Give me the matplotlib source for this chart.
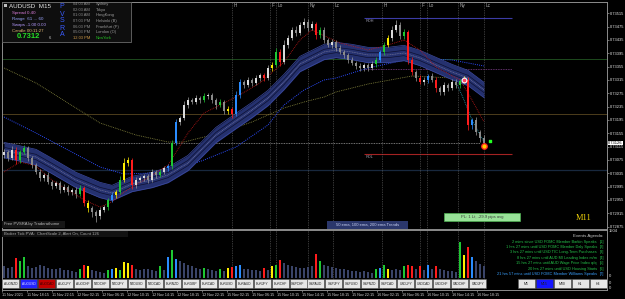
import numpy as np
import matplotlib.pyplot as plt
from matplotlib.patches import Rectangle

plt.rcParams['font.family'] = ['Liberation Sans', 'DejaVu Sans']

# AUDUSD M15 candles, prices in points (1 point = 0.00001)
first_open = 73090
closes = [73099, 73081, 73105, 73075, 73099, 73111, 73081, 73060, 73039, 73021,
          73030, 73009, 72997, 73006, 72985, 72994, 72979, 72985, 72973, 72991,
          72946, 72931, 72919, 72907, 72925, 72934, 72955, 72970, 72979, 73015,
          73066, 73075, 73000, 73015, 73021, 73027, 73015, 73039, 73030, 73039,
          73051, 73057, 73126, 73189, 73201, 73240, 73255, 73249, 73261, 73255,
          73267, 73270, 73255, 73240, 73250, 73222, 73228, 73213, 73270, 73309,
          73300, 73315, 73306, 73321, 73330, 73321, 73351, 73360, 73399, 73369,
          73420, 73441, 73465, 73456, 73480, 73489, 73471, 73483, 73450, 73465,
          73435, 73420, 73429, 73411, 73399, 73390, 73375, 73366, 73357, 73351,
          73360, 73351, 73363, 73375, 73399, 73420, 73441, 73465, 73480, 73447,
          73459, 73375, 73339, 73321, 73309, 73315, 73327, 73315, 73291, 73279,
          73300, 73291, 73309, 73300, 73312, 73315, 73180, 73195, 73159, 73141,
          73126]
upper_wick = [9, 6, 12, 8, 6, 9, 5, 7, 6, 9,
              6, 8, 5, 7, 6, 9, 5, 6, 8, 10,
              6, 9, 5, 6, 8, 6, 7, 9, 6, 12,
              15, 9, 6, 8, 6, 7, 5, 9, 6, 8,
              6, 7, 9, 8, 6, 12, 9, 6, 8, 6,
              9, 6, 7, 5, 8, 6, 9, 7, 12, 9,
              6, 8, 6, 9, 7, 6, 8, 9, 12, 9,
              15, 9, 8, 12, 9, 12, 8, 9, 6, 9,
              8, 6, 9, 6, 8, 7, 6, 9, 6, 8,
              6, 7, 9, 8, 6, 9, 8, 12, 15, 9,
              8, 6, 9, 6, 8, 9, 6, 8, 9, 6,
              8, 6, 9, 8, 6, 12, 9, 6, 8, 6,
              9]
lower_wick = [8, 10, 6, 12, 9, 6, 8, 9, 7, 10,
              8, 6, 9, 7, 10, 6, 8, 9, 12, 6,
              9, 12, 15, 18, 8, 6, 9, 6, 8, 6,
              6, 9, 12, 8, 6, 9, 8, 6, 9, 7,
              6, 8, 9, 6, 8, 6, 9, 7, 6, 8,
              6, 9, 8, 12, 6, 9, 8, 12, 6, 8,
              9, 6, 8, 6, 9, 8, 6, 9, 6, 12,
              6, 8, 6, 9, 6, 8, 9, 6, 12, 8,
              9, 6, 8, 9, 6, 8, 9, 6, 8, 9,
              8, 9, 6, 8, 6, 8, 6, 9, 6, 9,
              8, 12, 9, 8, 6, 9, 8, 6, 12, 9,
              8, 9, 6, 8, 9, 6, 15, 12, 9, 12,
              6]
# PVSRA candle class: n normal, g/r climax, b/y rising volume
kinds = ("nnnrggnnnn" "nnnnnnnnng" "rynnnngbyg" "yyrnnnnnng" "nbgbnnnnnn"
         "gnnngnyrbb" "nnnnnrnygr" "nnnnnnnnrg" "nnnnnnnnnn" "nnngbgynnn"
         "grrnrnbnrn" "nnnngyrbnn" "n")
volumes = [380, 340, 360, 660, 540, 690, 400, 330, 360, 420,
           380, 340, 300, 280, 320, 270, 250, 230, 200, 280,
           420, 400, 260, 220, 200, 160, 260, 300, 330, 260,
           520, 480, 420, 300, 260, 280, 300, 260, 240, 380,
           260, 690, 900, 620, 540, 480, 420, 380, 340, 300,
           330, 280, 260, 220, 280, 240, 330, 360, 380, 420,
           300, 280, 260, 250, 240, 330, 260, 380, 420, 580,
           480, 420, 380, 360, 340, 330, 360, 400, 800, 560,
           420, 380, 360, 330, 300, 280, 260, 240, 220, 200,
           220, 200, 180, 300, 320, 420, 300, 260, 280, 260,
           380, 430, 380, 300, 400, 260, 420, 300, 400, 300,
           260, 240, 220, 200, 1180, 750, 1000, 680, 560, 460,
           380]

# moving averages (bar index, points)
band_bars = [0, 8, 12, 18, 24, 27, 32, 37, 41, 46, 50, 53, 58, 62, 66, 70, 74, 80,
             83, 87, 91, 96, 100, 104, 108, 112, 116, 120]
band_mid = [73105, 73084, 73057, 73015, 72985, 72976, 73003, 73015, 73030, 73066,
            73114, 73150, 73192, 73225, 73261, 73309, 73363, 73399, 73405, 73399,
            73390, 73390, 73396, 73381, 73360, 73339, 73321, 73285]
ema100_bars = [0, 8, 16, 24, 30, 37, 45, 50, 58, 66, 70, 75, 80, 83, 91, 98, 102, 112, 120]
ema100 = [73204, 73156, 73105, 73054, 73033, 73036, 73054, 73075, 73114, 73180,
          73240, 73285, 73315, 73321, 73351, 73369, 73381, 73375, 73357]
ema200_bars = [0, 8, 16, 24, 33, 41, 45, 54, 62, 70, 75, 80, 83, 91, 102, 112, 120]
ema200 = [73351, 73306, 73246, 73186, 73150, 73129, 73129, 73156, 73189, 73231,
          73249, 73264, 73279, 73303, 73327, 73321, 73300]
fast_bars = [0, 4, 8, 12, 20, 24, 27, 30, 35, 41, 46, 50, 58, 64, 70, 74, 77, 84,
             91, 96, 100, 104, 108, 114, 117, 120]
fast_ema = [73039, 73069, 73057, 73015, 72955, 72934, 72949, 72979, 73015, 73060,
            73156, 73216, 73264, 73306, 73369, 73435, 73465, 73426, 73405, 73420,
            73435, 73405, 73354, 73315, 73255, 73189]
teal_bars = [113, 115, 117, 120]
teal_ema = [73309, 73255, 73195, 73129]

# horizontal levels (points)
green_level = 73378
olive_level = 73213
navy_level = 73045
purple_level = 73348
rdh_level = 73501
rdl_level = 73093
rd_start, rd_end = 90, 127

session_bars = [57, 66.5, 68, 76, 82.25, 94.5, 104, 105.75, 113.5, 120]
session_labels = ['H', 'F', 'Lo', 'Ny', 'Lc', 'H', 'F', 'Lo', 'Ny', 'Lc']

price_ticks = [0.73515, 0.73475, 0.73435, 0.73395, 0.73355, 0.73315, 0.73275, 0.73235,
               0.73195, 0.73155, 0.73115, 0.73075, 0.73035, 0.72995, 0.72955, 0.72915,
               0.72875]
time_labels = ['11 Nov 2021', '11 Nov 18:15', '11 Nov 22:15', '12 Nov 02:15', '12 Nov 06:15',
               '12 Nov 10:15', '12 Nov 14:15', '12 Nov 18:15', '12 Nov 22:15', '15 Nov 02:15',
               '15 Nov 06:15', '15 Nov 10:15', '15 Nov 14:15', '15 Nov 18:15', '15 Nov 22:15',
               '16 Nov 02:15', '16 Nov 06:15', '16 Nov 10:15', '16 Nov 14:15', '16 Nov 18:15']

symbols = ['AUDNZD', 'AUDUSD', 'AUDCAD', 'AUDJPY', 'AUDCHF', 'NZDCHF', 'NZDJPY', 'NZDUSD',
           'NZDCAD', 'EURNZD', 'EURGBP', 'EURCAD', 'EURUSD', 'EURAUD', 'EURJPY', 'EURCHF',
           'GBPCHF', 'GBPAUD', 'GBPJPY', 'GBPUSD', 'GBPNZD', 'GBPCAD', 'USDJPY', 'USDCAD',
           'USDCHF', 'CADCHF', 'CADJPY']
timeframes = ['M5', 'M15', 'M30', 'H1', 'H4']

sess_times = ['04:03 AM', '02:03 AM', '01:03 AM', '07:03 PM', '06:03 PM', '05:03 PM', '12:03 PM']
sess_names = ['Sydney', 'Tokyo', 'HongKong', 'Helsinki (B)', 'Frankfurt (P)', 'London (O)', 'NewYork']

events = ['2 mins since USD FOMC Member Barkin Speaks',
          '1 hrs 27 mins until USD FOMC Member Daly Speaks',
          '3 hrs 27 mins until USD TIC Long-Term Purchases',
          '8 hrs 27 mins until AUD MI Leading Index m/m',
          '15 hrs 27 mins until AUD Wage Price Index q/q',
          '20 hrs 27 mins until USD Housing Starts',
          '21 hrs 57 mins until USD FOMC Member Williams Speaks']

# ---------------------------------------------------------------
W, H = 625, 299
fig = plt.figure(figsize=(6.25, 2.99), dpi=100, facecolor='black')


def px_axes(x0, y0, x1, y1):
    return fig.add_axes([x0 / W, 1 - y1 / H, (x1 - x0) / W, (y1 - y0) / H])


def pts(v):
    return np.asarray(v, dtype=float) / 1e5


ax = px_axes(2, 2, 607, 229)
axv = px_axes(2, 230, 607, 290)
for a in (ax, axv):
    a.set_facecolor('black')
    a.set_xlim(-0.5, 150.75)
    for s in a.spines.values():
        s.set_color('#8c8c8c')
        s.set_linewidth(0.7)
ax.set_ylim(0.72868, 0.73549)
axv.set_ylim(-392, 1570)

# horizontal levels
ax.axhline(pts(green_level), color='#1d4a1d', lw=0.7, zorder=1)
ax.axhline(pts(olive_level), color='#4d3d1c', lw=0.7, zorder=1)
ax.axhline(pts(navy_level), color='#18283e', lw=0.9, zorder=1)
ax.hlines(pts(closes[-1]), -0.5, 119, color='#9a9a9a', lw=0.6, linestyles=(0, (1, 1)), zorder=1)
ax.hlines(pts(purple_level), rd_start, rd_end, color='#80408c', lw=0.6, linestyles=(0, (1, 1)), zorder=1)
ax.hlines(pts(rdh_level), rd_start, rd_end, color='#3c3ca6', lw=0.8, zorder=1)
ax.hlines(pts(rdl_level), rd_start, rd_end, color='#a32222', lw=0.8, zorder=1)
ax.text(rd_start + 0.3, pts(rdh_level) - 0.00003, 'RDH', color='#9a9aaa', fontsize=2.8, va='top')
ax.text(rd_start + 0.3, pts(rdl_level) - 0.00003, 'RDL', color='#9a9aaa', fontsize=2.8, va='top')

# session separators
for b, lbl in zip(session_bars, session_labels):
    for a in (ax, axv):
        a.axvline(b, color='#6e6e6e', lw=0.5, ls=(0, (1, 1.5)), zorder=1)
    ax.text(b + 0.4, 0.995, lbl, transform=ax.get_xaxis_transform(), color='#a8a8a8',
            fontsize=3.4, va='top', ha='left')

# moving averages
ax.plot(ema200_bars, pts(ema200), color='#8a8a40', lw=0.6, ls=(0, (1, 1.2)), zorder=2)
ax.plot(ema100_bars, pts(ema100), color='#2c4cff', lw=0.7, ls=(0, (1, 1.2)), zorder=2)
mid = pts(band_mid)
half = 0.00023
ax.fill_between(band_bars, mid - half, mid + half, color='#25316f', lw=0, zorder=3)
ax.plot(band_bars, mid + half, color='#3c4aa0', lw=0.5, zorder=3)
ax.plot(band_bars, mid - half, color='#3c4aa0', lw=0.5, zorder=3)
ax.plot(band_bars, mid + 0.00008, color='#0d1030', lw=0.5, zorder=3)
ax.plot(band_bars, mid - 0.00008, color='#0d1030', lw=0.5, zorder=3)
ax.plot(band_bars, mid, color='#7c7c9c', lw=0.4, ls=(0, (2, 1)), zorder=3)
ax.plot(fast_bars, pts(fast_ema), color='#c01818', lw=0.6, ls=(0, (1, 1.2)), zorder=3.5)
ax.plot(teal_bars, pts(teal_ema), color='#2aa6b8', lw=0.6, ls=(0, (1, 1.2)), zorder=3.5)

# candles
kind_colors = {'g': '#1ec832', 'r': '#ff1c1c', 'b': '#2a8cff', 'y': '#ffee00'}
c = pts(closes)
o = np.r_[pts(first_open), c[:-1]]
hi = np.maximum(o, c) + pts(upper_wick)
lo = np.minimum(o, c) - pts(lower_wick)
idx = np.arange(len(c))
body_cols, wick_cols, vol_cols = [], [], []
for k, oo, cc in zip(kinds, o, c):
    if k == 'n':
        body_cols.append('#dadada' if cc >= oo else '#8a8a8a')
        wick_cols.append('#9c9c9c')
        vol_cols.append('#3a4468')
    else:
        body_cols.append(kind_colors[k])
        wick_cols.append(kind_colors[k])
        vol_cols.append(kind_colors[k])
body = np.where(np.abs(c - o) < 0.00002, 0.00002, c - o)
ax.vlines(idx, lo, hi, colors=wick_cols, lw=0.5, zorder=4)
ax.bar(idx, body, bottom=o, width=0.5, color=body_cols, lw=0, zorder=5)

# markers
ax.scatter([115], [0.73315], s=12, facecolor='#ff4060', edgecolor='white', lw=0.8, zorder=6)
ax.scatter([120], [0.73117], s=16, facecolor='#ffcc00', edgecolor='#ff2020', lw=0.9, zorder=6)
ax.scatter([121.5], [0.73132], s=2, marker='s', color='#22ff22', zorder=6)

ax.set_xticks([])
ax.yaxis.tick_right()
ax.set_yticks(price_ticks)
ax.set_yticklabels([f'{v:.5f}' for v in price_ticks])
ax.tick_params(axis='y', length=1.5, width=0.5, color='#9a9a9a', labelcolor='#e8e8e8',
               labelsize=2.9, pad=0.6)
ax.text(1.002, c[-1], f'{c[-1]:.5f}', transform=ax.get_yaxis_transform(), fontsize=2.9,
        color='black', va='center', ha='left', clip_on=False,
        bbox=dict(boxstyle='square,pad=0.12', fc='white', ec='none'))

# volume panel
axv.bar(idx, volumes, width=0.7, color=vol_cols, lw=0, zorder=2)
axv.set_yticks([])
axv.set_xticks([-0.5 + 6.25 * k for k in range(len(time_labels))])
axv.set_xticklabels(time_labels)
for t in axv.get_xticklabels():
    t.set_ha('left')
axv.tick_params(axis='x', length=1.5, width=0.5, color='#9a9a9a', labelcolor='#d4d4d4',
                labelsize=2.7, pad=1)

# ---------------------------------------------------------------
# terminal overlays in pixel coordinates
ui = fig.add_axes([0, 0, 1, 1])
ui.set_xlim(0, W)
ui.set_ylim(H, 0)
ui.axis('off')
ui.patch.set_alpha(0)

ui.add_patch(Rectangle((2, 2), 129, 40, fc='#0e0e0e', ec='#6a6a6a', lw=0.6))
ui.add_patch(Rectangle((3.5, 3.5), 3, 3, fc='#bdbdbd', ec='none'))
ui.text(9, 6.5, 'AUDUSD  M15', color='#e6e6e6', fontsize=4.5, va='center')
info_rows = [('Spread 0.40', '#d67ad6'), ('Range  61 ... 60', '#9aa6ff'),
             ('Swaps -1.00 0.00', '#b79cff'), ('Candle 00:11:27', '#e2b774')]
for k, (t, col) in enumerate(info_rows):
    ui.text(12, 13 + 6 * k, t, color=col, fontsize=3.2, va='center')
ui.text(17, 37, '0.7312', color='#26e026', fontsize=5.5, fontweight='bold', va='center')
ui.text(49, 38, '6', color='#c8c8c8', fontsize=3, va='center')
for k, ch in enumerate('PVSRA'):
    ui.text(62, 7 + 7 * k, ch, color='#3a5cff', fontsize=5, ha='center', va='center')
for k, (t, n) in enumerate(zip(sess_times, sess_names)):
    y = 4 + 5.63 * k
    last = k == len(sess_times) - 1
    ui.text(73, y, t, color='#d09a48' if last else '#8c8c8c', fontsize=2.9, va='center')
    ui.text(96, y, n, color='#22c022' if last else '#9a9a9a', fontsize=2.9, va='center')

ui.add_patch(Rectangle((2, 220.5), 63, 7, fc='#161616', ec='none'))
ui.text(4, 224, 'Free PVSRA by Traderathome', color='#b8b8b8', fontsize=3, va='center')
ui.add_patch(Rectangle((327, 221), 81, 7.5, fc='#2b376b', ec='none'))
ui.text(367.5, 224.8, '50 ema, 100 ema, 200 ema Trends', color='#c8d0f0', fontsize=3,
        ha='center', va='center')
ui.add_patch(Rectangle((444, 213), 76, 7.5, fc='#98e298', ec='#4caf50', lw=0.5))
ui.text(482, 216.8, 'PL: 1 Lt, -29.9 pips avg', color='#3a3a3a', fontsize=3,
        ha='center', va='center')
ui.text(584, 218, 'M11', color='#f2d40a', fontsize=6, family='Liberation Serif',
        ha='center', va='center')

ui.add_patch(Rectangle((2, 230.5), 126, 6, fc='#121212', ec='none'))
ui.text(4, 233.5, 'Broker Tick PVA:  ChartScale 2, Alert On, Count 126', color='#a8a8a8',
        fontsize=3, va='center')
ui.text(603, 235.7, 'Events Agenda:', color='#c8c8c8', fontsize=3.2, ha='right', va='center')
for k, ev in enumerate(events):
    col = '#3aa0ff' if k == len(events) - 1 else '#25c24a'
    y = 241.7 + 5.4 * k
    ui.text(597, y, ev, color=col, fontsize=2.8, ha='right', va='center')
    ui.text(599.5, y, f'[{k + 1}]', color=col, fontsize=2.8, ha='left', va='center')

ui.text(609, 231, '1504', color='#e0e0e0', fontsize=3, va='center')
for y in (276, 282.5, 288):
    ui.text(609, y, '0', color='#e0e0e0', fontsize=3, va='center')

for k, name in enumerate(symbols):
    x0 = 2 + 17.97 * k
    fc, tc = '#e6e6e6', '#202020'
    if name == 'AUDUSD':
        fc, tc = '#2424ff', '#dcdcff'
    elif name == 'AUDCAD':
        fc, tc = '#c40000', '#3a0000'
    ui.add_patch(Rectangle((x0, 279), 17, 9, fc=fc, ec='#5a5a5a', lw=0.4))
    ui.text(x0 + 8.5, 283.6, name, fontsize=2.3, color=tc, ha='center', va='center')
for k, name in enumerate(timeframes):
    x0 = 518 + 17.9 * k
    fc = '#1414ff' if name == 'M15' else '#e6e6e6'
    ui.add_patch(Rectangle((x0, 279), 17, 9, fc=fc, ec='#5a5a5a', lw=0.4))
    ui.text(x0 + 8.5, 283.6, name, fontsize=2.5, color='#202020', ha='center', va='center')

fig.savefig('out.png', dpi=100, facecolor='black')
